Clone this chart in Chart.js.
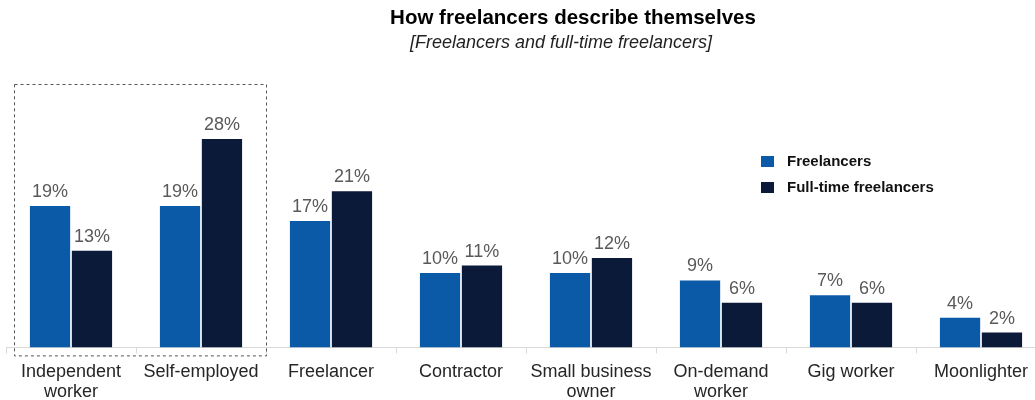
<!DOCTYPE html>
<html>
<head>
<meta charset="utf-8">
<script src="https://cdn.jsdelivr.net/npm/chart.js@4/dist/chart.umd.min.js"></script>
<style>
  html, body { margin: 0; padding: 0; background: #fff; overflow: hidden; }
  #wrap { position: relative; width: 1035px; height: 400px; overflow: hidden; }
  #title, #subtitle {
    position: absolute; text-align: center;
    font-family: "Liberation Sans", Arial, sans-serif; color: #000;
  }
  #title { left: 0; width: 1146px; top: 5px; font-size: 20.5px; font-weight: bold; line-height: 24px; }
  #subtitle { left: 0; width: 1122px; top: 31px; font-size: 18px; font-style: italic; color: #222; line-height: 22px; }
  #chart { position: absolute; left: 0; top: 0; }
</style>
</head>
<body>
<div id="wrap">
  <canvas id="chart" width="1052" height="413"></canvas>
  <div id="title">How freelancers describe themselves</div>
  <div id="subtitle">[Freelancers and full-time freelancers]</div>
</div>
<script>
  const categories = [
    ['Independent', 'worker'], 'Self-employed', 'Freelancer', 'Contractor',
    ['Small business', 'owner'], ['On-demand', 'worker'], 'Gig worker', 'Moonlighter'
  ];
  const seriesNames = ['Freelancers', 'Full-time freelancers'];
  const freelancers = [19, 19, 17, 10, 10, 9, 7, 4];
  const fullTime = [13, 28, 21, 11, 12, 6, 6, 2];

  const BLUE = '#0b5aa8';
  const NAVY = '#0b1a38';
  const FONT = '"Liberation Sans", Arial, sans-serif';

  // percent labels over each bar
  const valueLabels = {
    id: 'valueLabels',
    afterDatasetsDraw(chart) {
      const ctx = chart.ctx;
      ctx.save();
      ctx.font = '18px ' + FONT;
      ctx.fillStyle = '#595959';
      ctx.textAlign = 'center';
      ctx.textBaseline = 'alphabetic';
      chart.data.datasets.forEach((ds, i) => {
        chart.getDatasetMeta(i).data.forEach((bar, j) => {
          ctx.fillText(ds.data[j] + '%', bar.x, bar.y - 9);
        });
      });
      ctx.restore();
    }
  };

  // legend block on the right side of the plot
  const sideLegend = {
    id: 'sideLegend',
    afterDraw(chart) {
      const ctx = chart.ctx;
      ctx.save();
      ctx.font = 'bold 15px ' + FONT;
      ctx.textBaseline = 'middle';
      const colors = [BLUE, NAVY];
      seriesNames.forEach((name, i) => {
        const y = 156 + i * 26;
        ctx.fillStyle = colors[i];
        ctx.fillRect(761, y, 13, 11);
        ctx.fillStyle = '#111';
        ctx.fillText(name, 787, y + 5.5);
      });
      ctx.restore();
    }
  };

  // dashed frame round the first two categories
  const highlightBox = {
    id: 'highlightBox',
    afterDraw(chart) {
      const x = chart.scales.x;
      const area = chart.chartArea;
      const left = x.getPixelForValue(0) - 57;
      const right = x.getPixelForValue(1) + 65;
      const ctx = chart.ctx;
      ctx.save();
      ctx.strokeStyle = '#555';
      ctx.lineWidth = 1;
      ctx.setLineDash([3, 3]);
      ctx.strokeRect(left + 0.5, 84.5, right - left, area.bottom + 8 - 84);
      ctx.restore();
    }
  };

  new Chart(document.getElementById('chart'), {
    type: 'bar',
    data: {
      labels: categories,
      datasets: [
        { label: seriesNames[0], data: freelancers, backgroundColor: BLUE },
        { label: seriesNames[1], data: fullTime, backgroundColor: NAVY }
      ]
    },
    options: {
      responsive: false,
      animation: false,
      layout: { padding: { top: 87, left: 6, right: 6, bottom: 2 } },
      datasets: { bar: { categoryPercentage: 0.645, barPercentage: 0.96 } },
      plugins: {
        legend: { display: false },
        tooltip: { enabled: false }
      },
      scales: {
        y: { display: false, min: 0, max: 35 },
        x: {
          border: { display: true, color: '#d9d9d9' },
          grid: { drawOnChartArea: false, drawTicks: true, tickLength: 6, color: '#d9d9d9' },
          ticks: {
            color: '#262626',
            font: { family: FONT, size: 18, lineHeight: 1.1 },
            maxRotation: 0,
            autoSkip: false,
            padding: 9
          }
        }
      }
    },
    plugins: [valueLabels, sideLegend, highlightBox]
  });
</script>
</body>
</html>
